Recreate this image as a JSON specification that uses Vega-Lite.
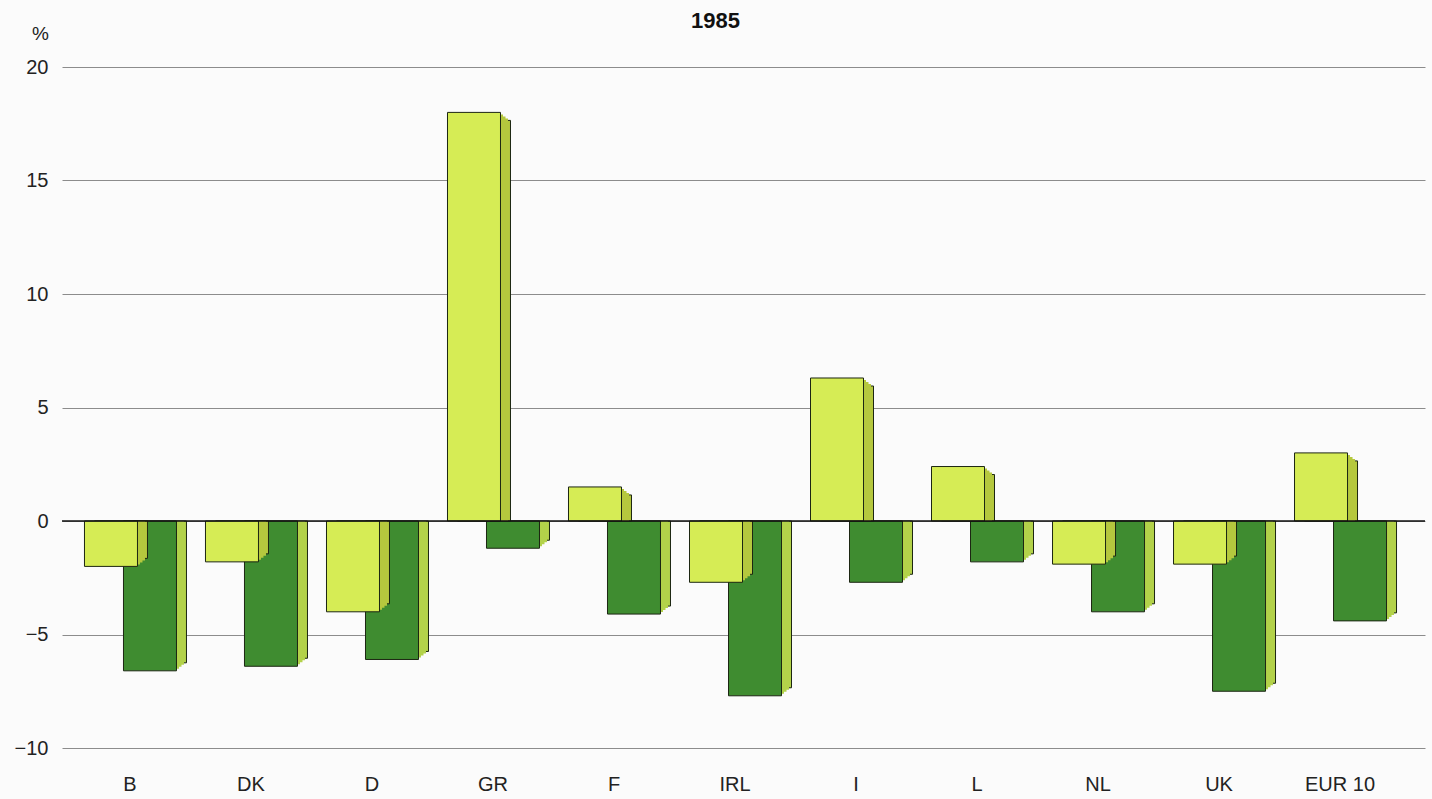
{
  "$schema": "https://vega.github.io/schema/vega-lite/v6.json",
  "width": 1363,
  "height": 681,
  "autosize": "none",
  "padding": {"left": 62, "top": 67, "right": 7, "bottom": 51},
  "background": "#fbfbfb",
  "config": {"font": "Liberation Sans", "view": {"stroke": null}},
  "title": {"text": "1985", "fontSize": 22, "fontWeight": "bold", "anchor": "middle", "frame": "group", "dx": -28, "offset": 0, "dy": 26, "baseline": "alphabetic", "color": "#111"},
  "data": {"values": [
    {"country": "B", "series": "light", "value": -2.0},
    {"country": "B", "series": "dark", "value": -6.6},
    {"country": "DK", "series": "light", "value": -1.8},
    {"country": "DK", "series": "dark", "value": -6.4},
    {"country": "D", "series": "light", "value": -4.0},
    {"country": "D", "series": "dark", "value": -6.1},
    {"country": "GR", "series": "light", "value": 18.0},
    {"country": "GR", "series": "dark", "value": -1.2},
    {"country": "F", "series": "light", "value": 1.5},
    {"country": "F", "series": "dark", "value": -4.1},
    {"country": "IRL", "series": "light", "value": -2.7},
    {"country": "IRL", "series": "dark", "value": -7.7},
    {"country": "I", "series": "light", "value": 6.3},
    {"country": "I", "series": "dark", "value": -2.7},
    {"country": "L", "series": "light", "value": 2.4},
    {"country": "L", "series": "dark", "value": -1.8},
    {"country": "NL", "series": "light", "value": -1.9},
    {"country": "NL", "series": "dark", "value": -4.0},
    {"country": "UK", "series": "light", "value": -1.9},
    {"country": "UK", "series": "dark", "value": -7.5},
    {"country": "EUR 10", "series": "light", "value": 3.0},
    {"country": "EUR 10", "series": "dark", "value": -4.4}
  ]},
  "layer": [
    {
      "encoding": {
        "x": {"field": "country", "type": "nominal", "sort": ["B", "DK", "D", "GR", "F", "IRL", "I", "L", "NL", "UK", "EUR 10"],
              "scale": {"paddingInner": 0, "paddingOuter": 0.132, "align": 0.234},
              "axis": {"title": null, "domain": false, "ticks": false, "grid": false, "labelAngle": 0, "labelFontSize": 20, "labelPadding": 26, "labelColor": "#222"}},
        "y": {"field": "value", "type": "quantitative", "scale": {"domain": [-10, 20], "nice": false},
              "axis": {"values": [-10, -5, 0, 5, 10, 15, 20], "domain": false, "ticks": false, "grid": true, "gridColor": "#8c8c8c", "gridWidth": 1,
                       "labelFontSize": 20, "labelPadding": 14, "labelColor": "#222",
                       "title": "%", "titleAngle": 0, "titleX": -22, "titleY": -34, "titleFontSize": 19, "titleFontWeight": "normal", "titleAlign": "center", "titleBaseline": "middle", "titleColor": "#222"}},
        "y2": {"datum": 0}
      },
      "layer": [
        {"transform": [{"filter": "datum.series === 'dark'"}], "mark": {"type": "bar", "width": 53, "xOffset": 30, "yOffset": -8, "y2Offset": 0, "color": "#b3d24a", "stroke": "#1c2612", "strokeWidth": 1}},
        {"transform": [{"filter": "datum.series === 'dark'"}], "mark": {"type": "bar", "width": 53, "xOffset": 27.5, "yOffset": -6, "y2Offset": 0, "color": "#b3d24a", "strokeWidth": 0}},
        {"transform": [{"filter": "datum.series === 'dark'"}], "mark": {"type": "bar", "width": 53, "xOffset": 25, "yOffset": -4, "y2Offset": 0, "color": "#b3d24a", "strokeWidth": 0}},
        {"transform": [{"filter": "datum.series === 'dark'"}], "mark": {"type": "bar", "width": 53, "xOffset": 22.5, "yOffset": -2, "y2Offset": 0, "color": "#b3d24a", "strokeWidth": 0}},
        {"transform": [{"filter": "datum.series === 'dark'"}], "mark": {"type": "bar", "width": 53, "xOffset": 20, "color": "#3f8c30", "stroke": "#1c2612", "strokeWidth": 1}},
        {"transform": [{"filter": "datum.series === 'light' && datum.value < 0"}], "mark": {"type": "bar", "width": 53, "xOffset": -9, "yOffset": -8, "y2Offset": 0, "color": "#b5c83e", "stroke": "#1c2612", "strokeWidth": 1}},
        {"transform": [{"filter": "datum.series === 'light' && datum.value < 0"}], "mark": {"type": "bar", "width": 53, "xOffset": -11.5, "yOffset": -6, "y2Offset": 0, "color": "#b5c83e", "strokeWidth": 0}},
        {"transform": [{"filter": "datum.series === 'light' && datum.value < 0"}], "mark": {"type": "bar", "width": 53, "xOffset": -14, "yOffset": -4, "y2Offset": 0, "color": "#b5c83e", "strokeWidth": 0}},
        {"transform": [{"filter": "datum.series === 'light' && datum.value < 0"}], "mark": {"type": "bar", "width": 53, "xOffset": -16.5, "yOffset": -2, "y2Offset": 0, "color": "#b5c83e", "strokeWidth": 0}},
        {"transform": [{"filter": "datum.series === 'light' && datum.value > 0"}], "mark": {"type": "bar", "width": 53, "xOffset": -9, "yOffset": 8, "y2Offset": 0, "color": "#b5c83e", "stroke": "#1c2612", "strokeWidth": 1}},
        {"transform": [{"filter": "datum.series === 'light' && datum.value > 0"}], "mark": {"type": "bar", "width": 53, "xOffset": -11.5, "yOffset": 6, "y2Offset": 0, "color": "#b5c83e", "strokeWidth": 0}},
        {"transform": [{"filter": "datum.series === 'light' && datum.value > 0"}], "mark": {"type": "bar", "width": 53, "xOffset": -14, "yOffset": 4, "y2Offset": 0, "color": "#b5c83e", "strokeWidth": 0}},
        {"transform": [{"filter": "datum.series === 'light' && datum.value > 0"}], "mark": {"type": "bar", "width": 53, "xOffset": -16.5, "yOffset": 2, "y2Offset": 0, "color": "#b5c83e", "strokeWidth": 0}},
        {"transform": [{"filter": "datum.series === 'light'"}], "mark": {"type": "bar", "width": 53, "xOffset": -19, "color": "#d6ec55", "stroke": "#1c2612", "strokeWidth": 1}}
      ]
    },
    {
      "data": {"values": [{}]},
      "mark": {"type": "rule", "color": "#111", "strokeWidth": 1.5},
      "encoding": {"y": {"datum": 0}}
    }
  ]
}
